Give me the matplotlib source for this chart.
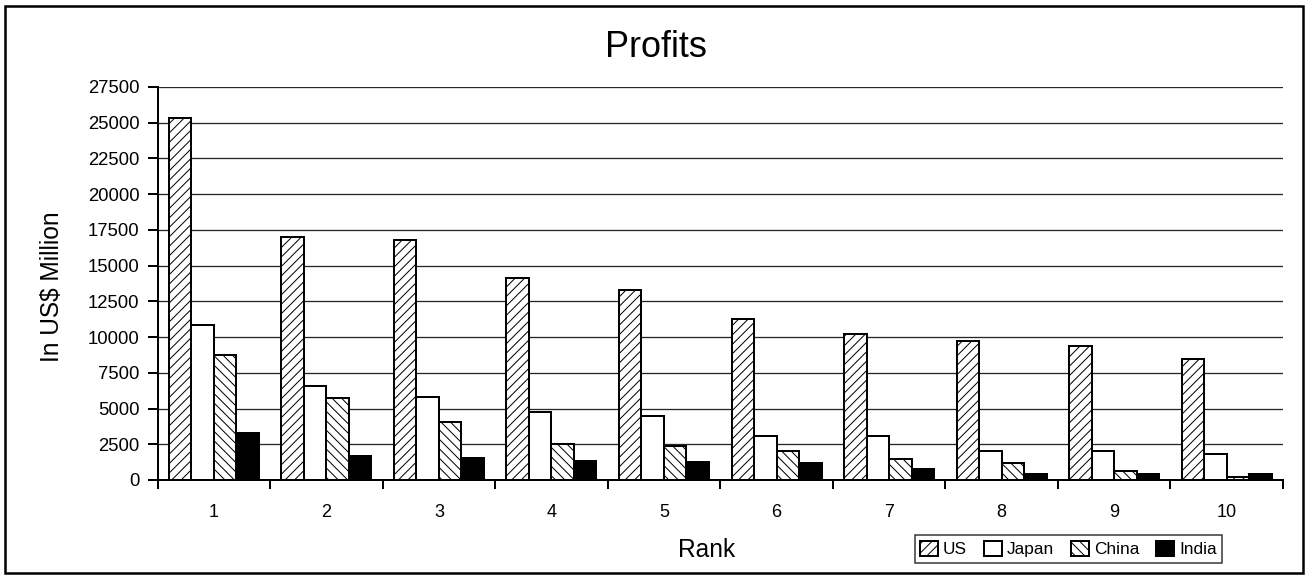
import numpy as np
from matplotlib import pyplot as plt
from matplotlib.patches import Rectangle

DPI = 85
W, H = 1308, 577


def px(p):
    # pixel size -> points at the figure dpi
    return p * 72.0 / DPI


plt.rcParams['font.family'] = ['Liberation Sans', 'DejaVu Sans']
plt.rcParams['hatch.color'] = 'black'
plt.rcParams['hatch.linewidth'] = px(1.0)

rank = [1, 2, 3, 4, 5, 6, 7, 8, 9, 10]
us = [25350, 17030, 16800, 14150, 13300, 11300, 10200, 9700, 9400, 8500]
japan = [10850, 6560, 5800, 4750, 4500, 3080, 3050, 2050, 2000, 1820]
china = [8730, 5760, 4050, 2500, 2400, 2000, 1450, 1200, 650, 200]
india = [3320, 1700, 1550, 1350, 1280, 1180, 770, 450, 420, 420]

series = ["US", "Japan", "China", "India"]
values = [us, japan, china, india]
faces = ['white', 'white', 'white', 'black']
hatches = ['///', '', '\\\\\\', '']

fig = plt.figure(figsize=(W / DPI, H / DPI), dpi=DPI)
ax = fig.add_axes([157.5 / W, 1 - 480 / H, (1283 - 157.5) / W, (480 - 87) / H])

x = np.array(rank, dtype=float)
w = 0.2
for i in range(4):
    ax.bar(x + (i - 1.5) * w, values[i], width=w, color=faces[i], edgecolor='black',
           linewidth=px(2), hatch=hatches[i], label=series[i], zorder=3)

ax.set_xlim(0.5, 10.5)
ax.set_ylim(0, 27500)
ax.set_yticks(range(0, 27501, 2500))
ax.set_xticks(rank)
ax.set_xticks(np.arange(0.5, 11, 1), minor=True)
ax.tick_params(axis='x', which='major', length=0, pad=px(24), labelsize=px(18))
ax.tick_params(axis='x', which='minor', length=px(9), width=px(2), direction='out')
ax.tick_params(axis='y', length=px(10), width=px(2), direction='out',
               labelsize=px(18.5), pad=px(8))

ax.grid(axis='y', color='#262626', linewidth=px(1.3), zorder=0)
ax.set_axisbelow(True)
for s in ['top', 'right']:
    ax.spines[s].set_visible(False)
ax.spines['left'].set_linewidth(px(2))
ax.spines['bottom'].set_linewidth(px(2))

fig.text(656 / W, 1 - 57 / H, "Profits", fontsize=px(36), ha='center', va='baseline')
fig.text(707 / W, 1 - 557 / H, "Rank", fontsize=px(24.5), ha='center', va='baseline')
fig.text(52 / W, 1 - 287 / H, "In US$ Million", fontsize=px(24.5), rotation=90,
         ha='center', va='center')

leg = fig.legend(loc='center', bbox_to_anchor=(1068.5 / W, 1 - 549 / H), ncol=4,
                 fontsize=px(17.3), frameon=True, fancybox=False, edgecolor='black',
                 handlelength=1.0, handleheight=1.0, handletextpad=0.3,
                 columnspacing=1.0, borderpad=0.3, borderaxespad=0)
leg.get_frame().set_linewidth(px(1.5))

# outer frame around the whole figure
fig.patches.append(Rectangle((5 / W, 4 / H), 1298 / W, 567 / H,
                             transform=fig.transFigure, fill=False,
                             edgecolor='black', linewidth=px(2.5)))

fig.savefig("out.png", dpi=DPI)
